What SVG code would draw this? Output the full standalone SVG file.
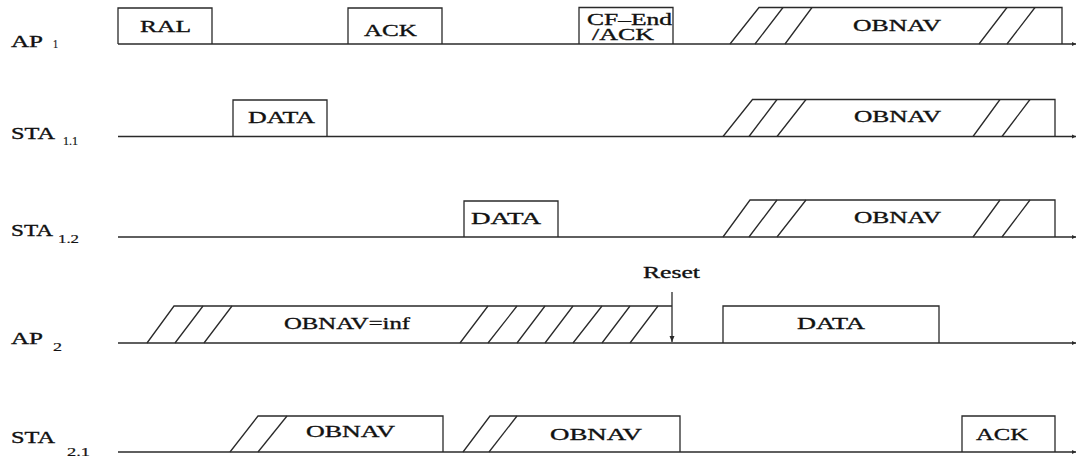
<svg xmlns="http://www.w3.org/2000/svg" width="1079" height="459" viewBox="0 0 1079 459">
<style>
.ln{fill:none;stroke:#2a2a2a;stroke-width:1.3}
.t{font-family:"Liberation Serif","Times New Roman",serif;font-size:17px;fill:#111;stroke:#111;stroke-width:0.35}
.s{font-family:"Liberation Serif","Times New Roman",serif;font-size:13px;fill:#111;stroke:#111;stroke-width:0.2}
</style>
<defs>
<marker id="end" markerWidth="6" markerHeight="6" refX="4" refY="3" orient="auto" markerUnits="userSpaceOnUse">
<path d="M0,1 L4,3 L0,5 Z" fill="#2a2a2a"/>
</marker>
<marker id="down" markerWidth="8" markerHeight="8" refX="6" refY="4" orient="auto" markerUnits="userSpaceOnUse">
<path d="M0,1.5 L6,4 L0,6.5 Z" fill="#2a2a2a"/>
</marker>
</defs>
<rect width="1079" height="459" fill="#fff"/>

<g id="labels">
<text class="t" x="11" y="47" textLength="32" lengthAdjust="spacingAndGlyphs">AP</text>
<text class="s" x="53" y="48" textLength="5" lengthAdjust="spacingAndGlyphs">1</text>
<text class="t" x="11" y="139" textLength="44" lengthAdjust="spacingAndGlyphs">STA</text>
<text class="s" x="63" y="145" textLength="15" lengthAdjust="spacingAndGlyphs">1.1</text>
<text class="t" x="11" y="236" textLength="42" lengthAdjust="spacingAndGlyphs">STA</text>
<text class="s" x="58" y="243" textLength="21" lengthAdjust="spacingAndGlyphs">1.2</text>
<text class="t" x="11" y="344" textLength="32" lengthAdjust="spacingAndGlyphs">AP</text>
<text class="s" x="53" y="351" textLength="9" lengthAdjust="spacingAndGlyphs">2</text>
<text class="t" x="11" y="443" textLength="44" lengthAdjust="spacingAndGlyphs">STA</text>
<text class="s" x="67" y="456" textLength="23" lengthAdjust="spacingAndGlyphs">2.1</text>
</g>

<g id="connectors">
<line class="ln" x1="118" y1="44" x2="1076" y2="44" marker-end="url(#end)"/>
<line class="ln" x1="118" y1="136.5" x2="1076" y2="136.5" marker-end="url(#end)"/>
<line class="ln" x1="118" y1="237" x2="1076" y2="237" marker-end="url(#end)"/>
<line class="ln" x1="118" y1="343" x2="1076" y2="343" marker-end="url(#end)"/>
<line class="ln" x1="118" y1="452" x2="1076" y2="452" marker-end="url(#end)"/>
<line id="reset-arrow" class="ln" x1="672" y1="292" x2="672" y2="342" marker-end="url(#down)"/>
</g>

<g id="ap1-ral">
<polyline class="ln" points="118,44 118,8 212,8 212,44"/>
<text class="t" x="140" y="32" font-size="18" textLength="51" lengthAdjust="spacingAndGlyphs">RAL</text>
</g>
<g id="ap1-ack">
<polyline class="ln" points="348,44 348,8 442,8 442,44"/>
<text class="t" x="364" y="36" textLength="53" lengthAdjust="spacingAndGlyphs">ACK</text>
</g>
<g id="ap1-cfend">
<polyline class="ln" points="579,44 579,7.5 673,7.5 673,44"/>
<text class="t" font-size="13"><tspan x="587" y="24.5" textLength="85" lengthAdjust="spacingAndGlyphs">CF–End</tspan><tspan x="592" y="39.5" textLength="62" lengthAdjust="spacingAndGlyphs">/ACK</tspan></text>
</g>
<g id="ap1-obnav">
<polyline class="ln" points="730,44 759,7.5 1062,7.5 1062,44"/>
<path class="ln" d="M755,44 L783,7.5 M785,44 L812,7.5 M979,44 L1007,7.5 M1007,44 L1035,7.5"/>
<text class="t" x="853" y="31" textLength="88" lengthAdjust="spacingAndGlyphs">OBNAV</text>
</g>

<g id="sta11-data">
<polyline class="ln" points="233,136.5 233,100 327,100 327,136.5"/>
<text class="t" x="248" y="123" textLength="67" lengthAdjust="spacingAndGlyphs">DATA</text>
</g>
<g id="sta11-obnav">
<polyline class="ln" points="723,136.5 752.5,99.5 1055,99.5 1055,136.5"/>
<path class="ln" d="M749,136.5 L777,99.5 M777,136.5 L806,99.5 M973,136.5 L1000,99.5 M1002,136.5 L1030,99.5"/>
<text class="t" x="854" y="122" textLength="87" lengthAdjust="spacingAndGlyphs">OBNAV</text>
</g>

<g id="sta12-data">
<polyline class="ln" points="464,237 464,201 558,201 558,237"/>
<text class="t" x="471" y="224" textLength="70" lengthAdjust="spacingAndGlyphs">DATA</text>
</g>
<g id="sta12-obnav">
<polyline class="ln" points="723,237 750,200 1055,200 1055,237"/>
<path class="ln" d="M749,237 L777,200 M777,237 L806,200 M973,237 L1000,200 M1002,237 L1030,200"/>
<text class="t" x="854" y="223" textLength="87" lengthAdjust="spacingAndGlyphs">OBNAV</text>
</g>

<g id="ap2-obnav-inf">
<polyline class="ln" points="147,343 174,306 672,306"/>
<path class="ln" d="M175,343 L203,306 M204,343 L232,306 M460,343 L488,306 M488,343 L517,306 M517,343 L545,306 M545,343 L573,306 M573,343 L602,306 M602,343 L630,306 M630,343 L658,306"/>
<text class="t" x="284" y="329" textLength="126" lengthAdjust="spacingAndGlyphs">OBNAV=inf</text>
</g>
<g id="reset">
<text class="t" x="643" y="278" font-size="16" textLength="57" lengthAdjust="spacingAndGlyphs">Reset</text>
</g>
<g id="ap2-data">
<polyline class="ln" points="723,343 723,306 939,306 939,343"/>
<text class="t" x="797" y="329" textLength="68" lengthAdjust="spacingAndGlyphs">DATA</text>
</g>

<g id="sta21-obnav1">
<polyline class="ln" points="230,452 258,416 443,416 443,452"/>
<path class="ln" d="M258,452 L287,416"/>
<text class="t" x="306" y="437" textLength="89" lengthAdjust="spacingAndGlyphs">OBNAV</text>
</g>
<g id="sta21-obnav2">
<polyline class="ln" points="463,452 490,416 680,416 680,452"/>
<path class="ln" d="M489,452 L517,416"/>
<text class="t" x="550" y="440" textLength="92" lengthAdjust="spacingAndGlyphs">OBNAV</text>
</g>
<g id="sta21-ack">
<polyline class="ln" points="962,452 962,416 1055,416 1055,452"/>
<text class="t" x="976" y="440" textLength="52" lengthAdjust="spacingAndGlyphs">ACK</text>
</g>
</svg>
